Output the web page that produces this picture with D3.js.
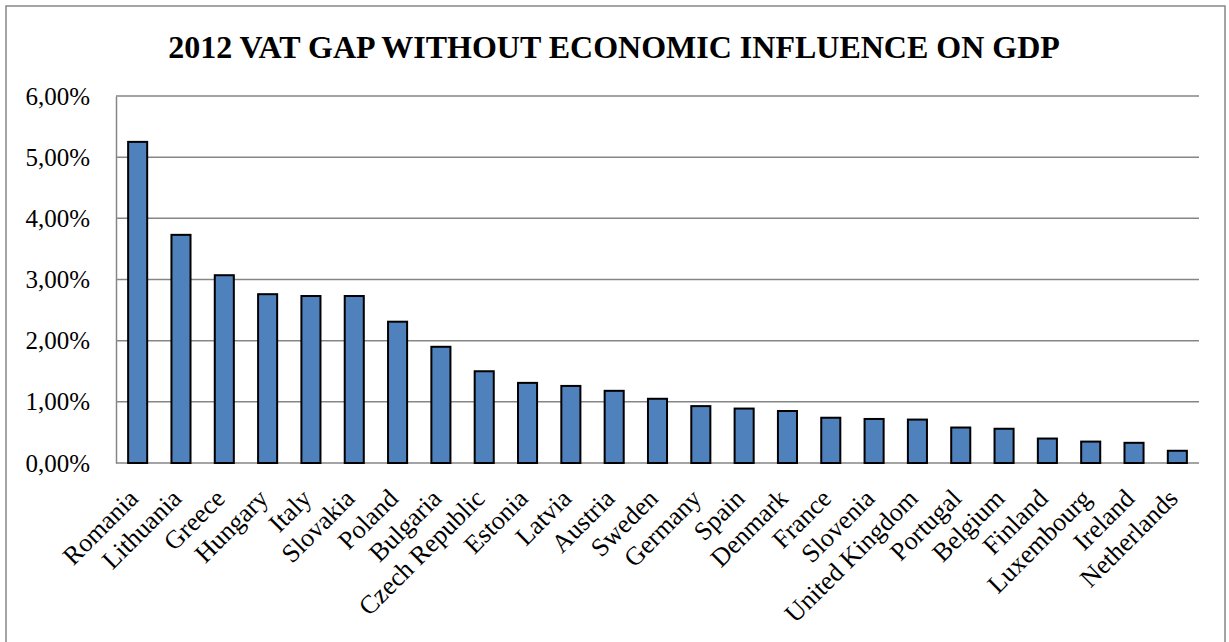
<!DOCTYPE html>
<html><head><meta charset="utf-8">
<script src="https://cdn.jsdelivr.net/npm/d3@7"></script>
<style>html,body{margin:0;padding:0;background:#fff;}</style>
</head><body>
<svg id="c" width="1229" height="642"></svg>
<script>
const categories = ["Romania","Lithuania","Greece","Hungary","Italy","Slovakia","Poland","Bulgaria","Czech Republic","Estonia","Latvia","Austria","Sweden","Germany","Spain","Denmark","France","Slovenia","United Kingdom","Portugal","Belgium","Finland","Luxembourg","Ireland","Netherlands"];
const values = [5.25,3.73,3.07,2.76,2.73,2.73,2.31,1.90,1.50,1.31,1.26,1.18,1.05,0.93,0.89,0.85,0.74,0.72,0.71,0.58,0.56,0.40,0.35,0.33,0.20];
const yTicks = [0,1,2,3,4,5,6];
const title = "2012 VAT GAP WITHOUT ECONOMIC INFLUENCE ON GDP";

const FONT = "Liberation Serif, Times New Roman, serif";
const svg = d3.select("#c");
const W = 1229, H = 642;
const m = {left:116, right:1199, top:96, bottom:463};

svg.append("rect").attr("x",6).attr("y",6).attr("width",1219).attr("height",H+10)
  .attr("fill","#fff").attr("stroke","#868686").attr("stroke-width",1.5);

svg.append("text").attr("x",614).attr("y",58).attr("text-anchor","middle")
  .style("font-family",FONT).style("font-weight","700")
  .attr("font-size",32).attr("fill","#000").text(title);

const x = d3.scaleBand().domain(categories).range([m.left,m.right]).paddingInner(0.56).paddingOuter(0.28);
const y = d3.scaleLinear().domain([0,6]).range([m.bottom,m.top]);

// gridlines
svg.append("g").selectAll("line").data(yTicks).join("line")
  .attr("x1",m.left).attr("x2",m.right).attr("y1",d=>y(d)).attr("y2",d=>y(d))
  .attr("stroke","#868686").attr("stroke-width",1.5);

// y axis
const yAxis = d3.axisLeft(y).tickValues(yTicks).tickSize(0).tickPadding(26)
  .tickFormat(d=>d3.format(".2f")(d).replace(".",",")+"%");
const gy = svg.append("g").attr("transform",`translate(${m.left},0)`).call(yAxis);
gy.select(".domain").attr("stroke","#868686").attr("stroke-width",1.5);
gy.selectAll(".tick text").style("font-family",FONT)
  .attr("font-size",25).attr("fill","#000");

// bars
svg.append("g").selectAll("rect").data(values).join("rect")
  .attr("x",(d,i)=>x(categories[i])).attr("width",x.bandwidth())
  .attr("y",d=>y(d)).attr("height",d=>y(0)-y(d))
  .attr("fill","#4F81BD").attr("stroke","#000").attr("stroke-width",2);

// x labels
svg.append("g").selectAll("text").data(categories).join("text")
  .attr("transform",d=>`translate(${x(d)+x.bandwidth()/2+2},${m.bottom+37}) rotate(-45)`)
  .attr("text-anchor","end")
  .style("font-family",FONT)
  .attr("font-size",26).attr("fill","#000").text(d=>d);
</script>
</body></html>
